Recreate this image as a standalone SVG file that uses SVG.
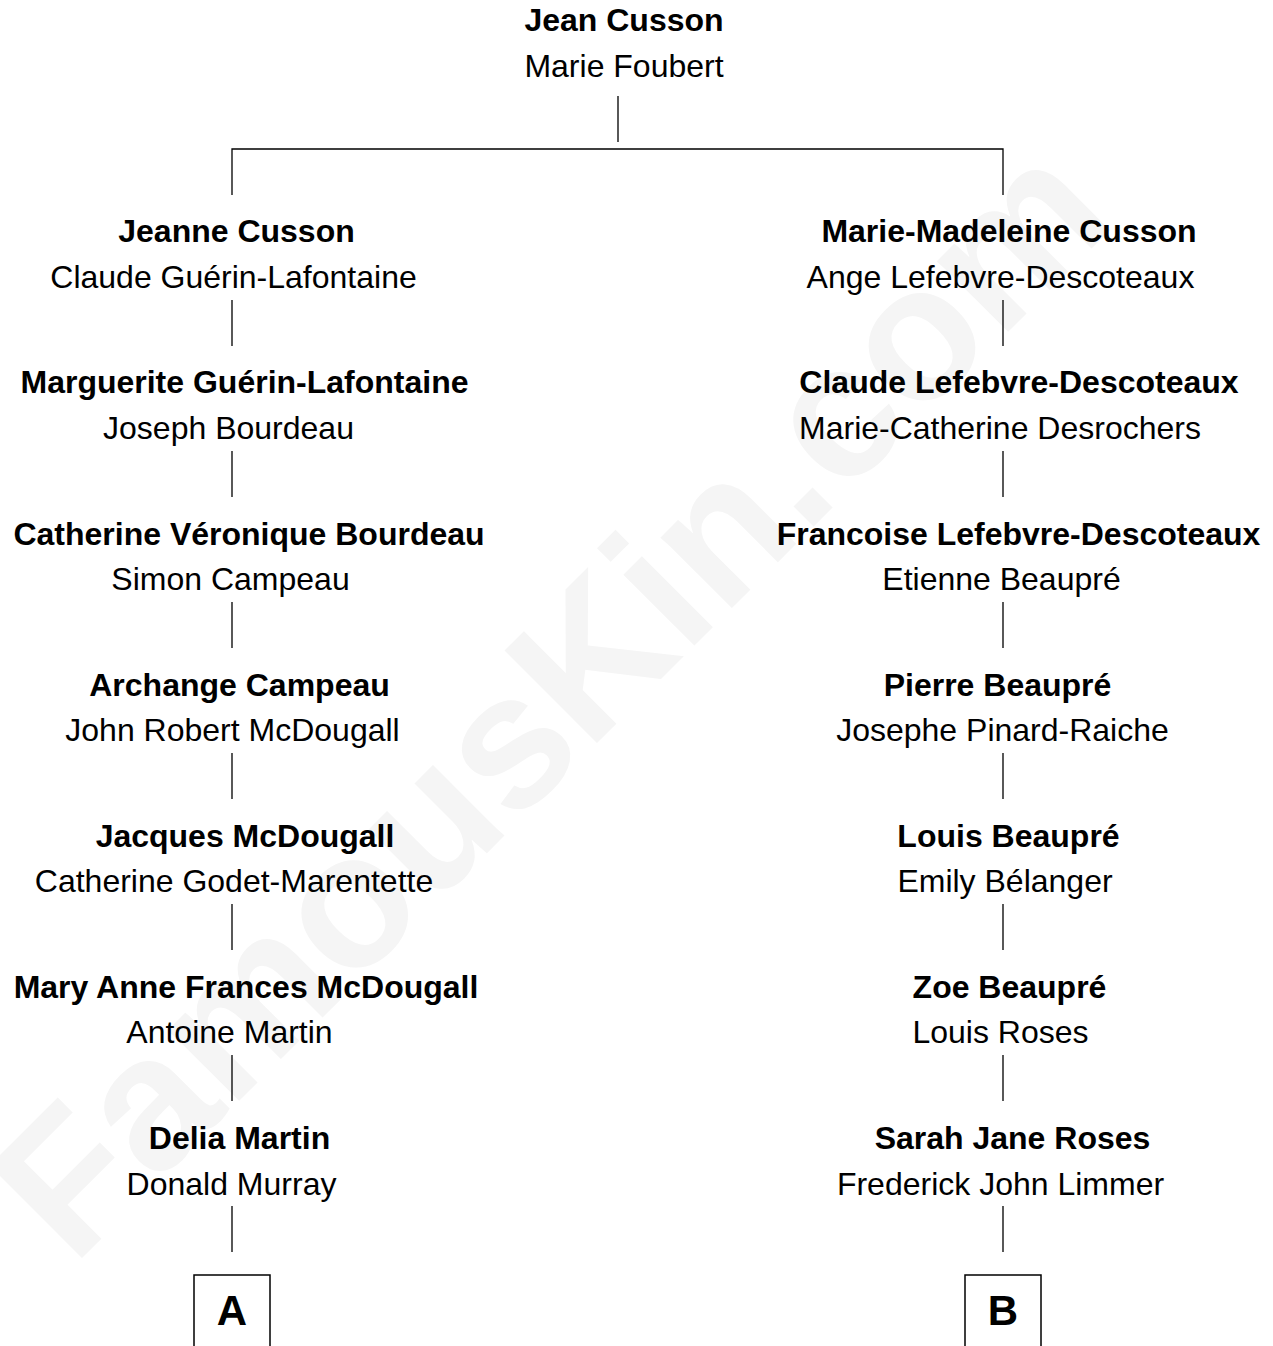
<svg xmlns="http://www.w3.org/2000/svg" width="1273" height="1346" viewBox="0 0 1273 1346">
<style>
text{font-family:"Liberation Sans",Arial,sans-serif;font-size:32px;text-anchor:middle;fill:#000}
.b{font-weight:bold}
.wm{font-weight:bold;font-size:190px;fill:#f5f5f5;text-anchor:start}
.ln{stroke:#000;stroke-width:1.3;fill:none}
.box{stroke:#000;stroke-width:1.5;fill:none}
.lt{font-weight:bold;font-size:42px}
</style>
<rect width="1273" height="1346" fill="#fff"/>
<text class="wm" transform="translate(73,1267) rotate(-45)">FamousKin.com</text>
<g id="connectors">
<path class="ln" d="M618 96V142M232 195V149H1003V195"/>
<path class="ln" d="M232 300V346M232 451V497M232 602V648M232 753V799M232 904V950M232 1055V1101M232 1206V1252"/>
<path class="ln" d="M1003 300V346M1003 451V497M1003 602V648M1003 753V799M1003 904V950M1003 1055V1101M1003 1206V1252"/>
</g>
<g id="n0"><text class="b" x="624" y="31">Jean Cusson</text><text x="624" y="77">Marie Foubert</text></g>
<g id="l1"><text class="b" x="236.5" y="242">Jeanne Cusson</text><text x="233.5" y="288">Claude Guérin-Lafontaine</text></g>
<g id="l2"><text class="b" x="244.5" y="393">Marguerite Guérin-Lafontaine</text><text x="228.5" y="439">Joseph Bourdeau</text></g>
<g id="l3"><text class="b" x="249" y="545">Catherine Véronique Bourdeau</text><text x="230.5" y="590">Simon Campeau</text></g>
<g id="l4"><text class="b" x="239.5" y="696">Archange Campeau</text><text x="232.5" y="741">John Robert McDougall</text></g>
<g id="l5"><text class="b" x="245" y="847">Jacques McDougall</text><text x="234" y="892">Catherine Godet-Marentette</text></g>
<g id="l6"><text class="b" x="246" y="998">Mary Anne Frances McDougall</text><text x="229.5" y="1043">Antoine Martin</text></g>
<g id="l7"><text class="b" x="239.5" y="1149">Delia Martin</text><text x="231.5" y="1195">Donald Murray</text></g>
<g id="r1"><text class="b" x="1009" y="242">Marie-Madeleine Cusson</text><text x="1000.5" y="288">Ange Lefebvre-Descoteaux</text></g>
<g id="r2"><text class="b" x="1019" y="393">Claude Lefebvre-Descoteaux</text><text x="1000" y="439">Marie-Catherine Desrochers</text></g>
<g id="r3"><text class="b" x="1018.5" y="545">Francoise Lefebvre-Descoteaux</text><text x="1001.5" y="590">Etienne Beaupré</text></g>
<g id="r4"><text class="b" x="997.5" y="696">Pierre Beaupré</text><text x="1002.5" y="741">Josephe Pinard-Raiche</text></g>
<g id="r5"><text class="b" x="1008.5" y="847">Louis Beaupré</text><text x="1005" y="892">Emily Bélanger</text></g>
<g id="r6"><text class="b" x="1009.5" y="998">Zoe Beaupré</text><text x="1000.5" y="1043">Louis Roses</text></g>
<g id="r7"><text class="b" x="1012.5" y="1149">Sarah Jane Roses</text><text x="1000.5" y="1195">Frederick John Limmer</text></g>
<g id="boxA"><rect class="box" x="194" y="1275" width="76" height="100"/><text class="lt" x="232" y="1325">A</text></g>
<g id="boxB"><rect class="box" x="965" y="1275" width="76" height="100"/><text class="lt" x="1003" y="1325">B</text></g>
</svg>
